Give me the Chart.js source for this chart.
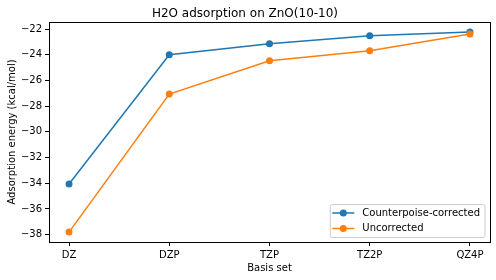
<!DOCTYPE html>
<html>
<head>
<meta charset="utf-8">
<script src="https://cdn.jsdelivr.net/npm/chart.js@4"></script>
<style>
  html, body { margin: 0; padding: 0; background: #fff; }
  #wrap { width: 496px; height: 280px; }
</style>
</head>
<body>
<div id="wrap"><canvas id="chart"></canvas></div>
<script>
// basis sets on the x axis
const basisSets = ['DZ', 'DZP', 'TZP', 'TZ2P', 'QZ4P'];
// adsorption energies in kcal/mol
const corrected = [-34.05, -24.0, -23.15, -22.52, -22.23];
const uncorrected = [-37.8, -27.06, -24.47, -23.69, -22.39];
const yTicks = [-22, -24, -26, -28, -30, -32, -34, -36, -38];

const FONT = 'DejaVu Sans, sans-serif';
const BLUE = '#1f77b4';
const ORANGE = '#ff7f0e';

// black frame round the plot area plus a matplotlib-like legend in the lower right
const framePlugin = {
  id: 'frame',
  afterDraw(chart) {
    const { ctx, chartArea: a } = chart;
    ctx.save();
    ctx.strokeStyle = '#000';
    ctx.lineWidth = 1;
    ctx.strokeRect(Math.round(a.left) + 0.5, Math.round(a.top) + 0.5,
      Math.round(a.right - a.left), Math.round(a.bottom - a.top));

    // legend
    ctx.font = '10px ' + FONT;
    const items = chart.data.datasets.map(d => ({ label: d.label, color: d.borderColor }));
    const textW = Math.max(...items.map(it => ctx.measureText(it.label).width));
    const w = 2 + 22 + 8 + textW + 5;
    const h = 33;
    const x0 = a.right - 5 - w;
    const y0 = a.bottom - 4.5 - h;
    ctx.fillStyle = 'rgba(255,255,255,0.8)';
    ctx.strokeStyle = '#cccccc';
    ctx.beginPath();
    ctx.roundRect(x0, y0, w, h, 2);
    ctx.fill();
    ctx.stroke();
    items.forEach((it, i) => {
      const cy = y0 + 8.5 + i * 15.5;
      ctx.strokeStyle = it.color;
      ctx.lineWidth = 1.5;
      ctx.beginPath();
      ctx.moveTo(x0 + 2, cy);
      ctx.lineTo(x0 + 24, cy);
      ctx.stroke();
      ctx.fillStyle = it.color;
      ctx.beginPath();
      ctx.arc(x0 + 13, cy, 3.5, 0, Math.PI * 2);
      ctx.fill();
      ctx.fillStyle = '#000';
      ctx.textBaseline = 'middle';
      ctx.fillText(it.label, x0 + 32, cy);
    });
    ctx.restore();
  }
};

const ctx = document.getElementById('chart').getContext('2d');
new Chart(ctx, {
  type: 'line',
  data: {
    datasets: [
      {
        label: 'Counterpoise-corrected',
        data: corrected.map((v, i) => ({ x: i, y: v })),
        borderColor: BLUE,
        backgroundColor: BLUE,
        borderWidth: 1.5,
        pointRadius: 3.5,
        pointBorderWidth: 0,
        pointHoverRadius: 3.5,
        tension: 0,
        order: 1
      },
      {
        label: 'Uncorrected',
        data: uncorrected.map((v, i) => ({ x: i, y: v })),
        borderColor: ORANGE,
        backgroundColor: ORANGE,
        borderWidth: 1.5,
        pointRadius: 3.5,
        pointBorderWidth: 0,
        pointHoverRadius: 3.5,
        tension: 0,
        order: 0
      }
    ]
  },
  options: {
    responsive: true,
    maintainAspectRatio: false,
    animation: false,
    layout: { padding: { left: 0, right: 6, top: 0, bottom: 0 } },
    plugins: {
      legend: { display: false },
      tooltip: { enabled: false },
      title: {
        display: true,
        text: 'H2O adsorption on ZnO(10-10)',
        color: '#000',
        font: { family: FONT, size: 12, weight: 'normal' },
        padding: { top: 6.5, bottom: 1.1 }
      }
    },
    scales: {
      x: {
        type: 'linear',
        min: -0.2,
        max: 4.2,
        afterBuildTicks(scale) {
          scale.ticks = basisSets.map((_, i) => ({ value: i }));
        },
        afterFit(scale) { scale.height = 38; },
        ticks: {
          color: '#000',
          font: { family: FONT, size: 10 },
          padding: 3,
          maxRotation: 0,
          callback: v => basisSets[v]
        },
        grid: { drawOnChartArea: false, drawTicks: true, tickLength: 4, color: '#000' },
        border: { display: false },
        title: {
          display: true,
          text: 'Basis set',
          color: '#000',
          font: { family: FONT, size: 10 },
          padding: { top: 2, bottom: 6 }
        }
      },
      y: {
        min: -38.57,
        max: -21.45,
        afterBuildTicks(scale) {
          scale.ticks = yTicks.map(v => ({ value: v }));
        },
        afterFit(scale) { scale.width = 49; },
        ticks: {
          color: '#000',
          font: { family: FONT, size: 10 },
          padding: 3,
          callback: v => String(v).replace('-', '\u2212')
        },
        grid: { drawOnChartArea: false, drawTicks: true, tickLength: 4, color: '#000' },
        border: { display: false },
        title: {
          display: true,
          text: 'Adsorption energy (kcal/mol)',
          color: '#000',
          font: { family: FONT, size: 10 },
          padding: { top: 6, bottom: 0 }
        }
      }
    }
  },
  plugins: [framePlugin]
});
</script>
</body>
</html>
